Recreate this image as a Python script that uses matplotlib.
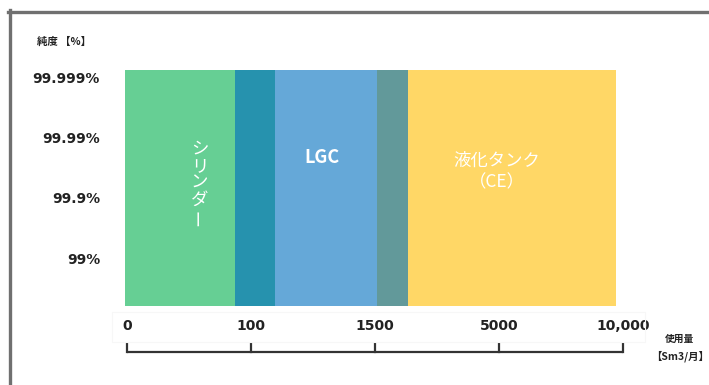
import matplotlib
matplotlib.use("Agg")
import matplotlib.pyplot as plt
from matplotlib.patches import Rectangle
from matplotlib.lines import Line2D

# ---------------- data ----------------
usage_ticks = ["0", "100", "1500", "5000", "10,000"]
purity_ticks = ["99%", "99.9%", "99.99%", "99.999%"]
purity_low, purity_high = -0.8, 3.13          # vertical extent of the bands (purity tick units)

products = ["シリンダー", "LGC", "液化タンク\n（CE）"]
prod_start = [-0.02, 0.87, 2.02]               # usage range (usage tick units)
prod_end = [1.19, 2.27, 3.94]
prod_colors = ["#66CF94", "#65A8D8", "#FFD766"]
overlap_colors = ["#2692AE", "#62999A"]

CJK = ["Noto Sans CJK JP", "DejaVu Sans"]
LAT = ["DejaVu Sans"]

fig = plt.figure(figsize=(7.09, 3.85), dpi=100)
W, H = 709, 385

px_left, px_right, py_top, py_bot = 100, 640, 30, 370
ax = fig.add_axes([px_left / W, 1 - py_bot / H, (px_right - px_left) / W, (py_bot - py_top) / H])
ax.set_xlim((px_left - 127) / 124, (px_right - 127) / 124)
ax.set_ylim((258 - py_bot) / 60, (258 - py_top) / 60)
for s in ax.spines.values():
    s.set_visible(False)
ax.set_xticks([])
ax.set_yticks(range(len(purity_ticks)))
ax.set_yticklabels(purity_ticks, fontsize=10, fontweight="bold", color="#222222", family=LAT)
ax.tick_params(axis="y", length=0, pad=0)

# product bands
hgt = purity_high - purity_low
for s, e, c in zip(prod_start, prod_end, prod_colors):
    ax.bar(s, hgt, width=e - s, bottom=purity_low, align="edge", color=c, linewidth=0)
# overlaps
for i, c in enumerate(overlap_colors):
    s = prod_start[i + 1]
    e = prod_end[i]
    ax.bar(s, hgt, width=e - s, bottom=purity_low, align="edge", color=c, linewidth=0)

# product labels
cx = [(s + e) / 2 for s, e in zip(prod_start, prod_end)]
chars = list(products[0])
ycen = 1.25
step = 0.285
y0 = ycen + step * (len(chars) - 1) / 2
for k, ch in enumerate(chars):
    ax.text(cx[0], y0 - k * step, ch, rotation=90 if ch == "ー" else 0,
            ha="center", va="center", fontsize=12.5, color="white", family=CJK)
ax.text(cx[1], 1.67, products[1], ha="center", va="center", fontsize=13,
        color="white", family=CJK, fontweight="bold")
ax.text(cx[2], 1.44, products[2], ha="center", va="center", fontsize=12.5,
        color="white", family=CJK, linespacing=1.25)

# usage scale below
axis_y = (258 - 352) / 60
tick_top = (258 - 344) / 60
label_y = (258 - 326) / 60
n = len(usage_ticks)
ax.plot([0, n - 1], [axis_y, axis_y], color="#333333", lw=1.6, clip_on=False,
        solid_capstyle="butt")
for i, lab in enumerate(usage_ticks):
    ax.plot([i, i], [axis_y, tick_top], color="#333333", lw=1.6, clip_on=False)
    ax.text(i, label_y, lab, ha="center", va="center", fontsize=10,
            fontweight="bold", color="#222222", family=LAT)
# faint box behind tick labels
fig.patches.append(Rectangle((112 / W, 1 - 342 / H), (645 - 112) / W, 30 / H,
                             transform=fig.transFigure, fill=False,
                             edgecolor="#f7f7f7", lw=0.8))

# axis titles
fig.text(680 / W, 1 - 339 / H, "使用量", ha="center", va="center", fontsize=7,
         fontweight="bold", color="#222222", family=CJK)
fig.text(680 / W, 1 - 356 / H, "【Sm3/月】", ha="center", va="center", fontsize=7.5,
         fontweight="bold", color="#222222", family=CJK)
fig.text(64 / W, 1 - 42 / H, "純度 【%】", ha="center", va="center", fontsize=7.5,
         fontweight="bold", color="#222222", family=CJK)

# gray frame (top and left)
fig.lines.append(Line2D([8 / W, 1], [1 - 11.5 / H, 1 - 11.5 / H], transform=fig.transFigure,
                        color="#707070", lw=2.4))
fig.lines.append(Line2D([9.5 / W, 9.5 / W], [1 - 10 / H, 0], transform=fig.transFigure,
                        color="#707070", lw=2.4))

fig.savefig("out.png", dpi=100)
